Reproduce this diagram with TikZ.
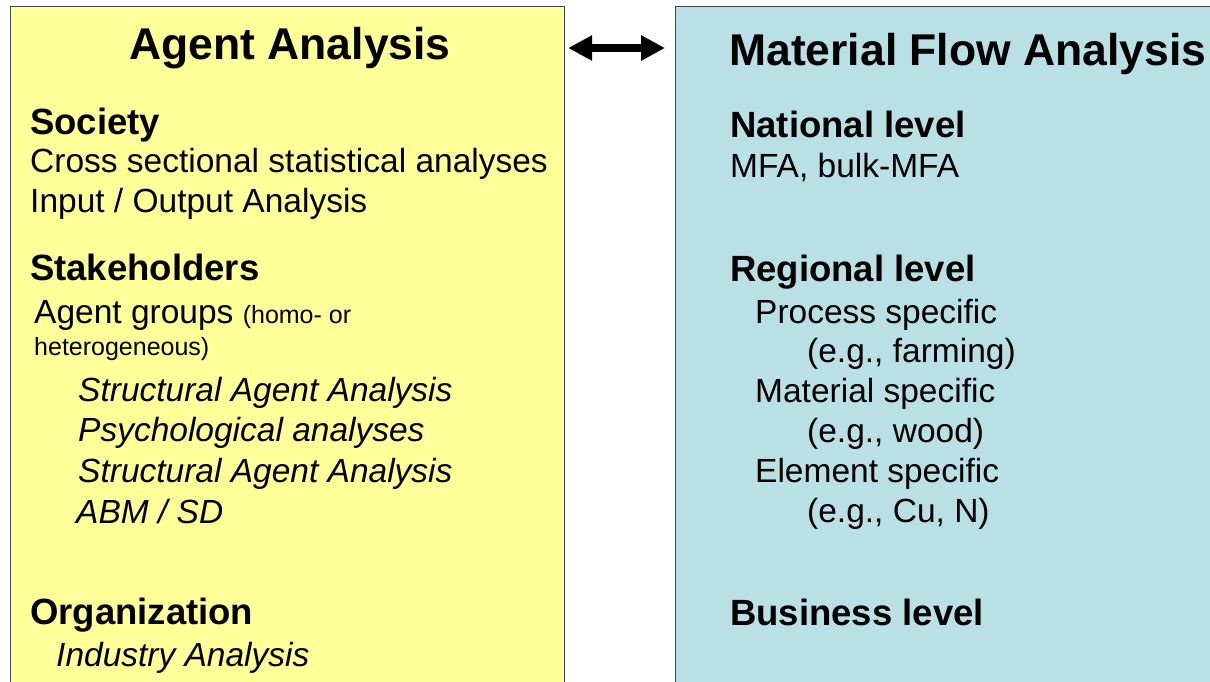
\documentclass[tikz,border=0pt]{standalone}
\usepackage{fontspec}
\setmainfont{Liberation Sans}
\usetikzlibrary{positioning,arrows.meta}
\definecolor{agentyellow}{RGB}{255,255,153}
\definecolor{flowblue}{RGB}{185,224,228}
\definecolor{boxgray}{RGB}{70,70,70}
\newcommand\notesize{\fontsize{25}{30}\selectfont}

\begin{document}
\begin{tikzpicture}[x=1pt,y=-1pt,
	panel/.style ={rectangle, draw=boxgray, line width=1.2pt, inner sep=0pt,
		minimum height=720pt, anchor=north west},
	txt/.style ={anchor=base west, inner sep=0pt, font=\fontsize{33.5}{40}\selectfont},
	head/.style ={txt, font=\fontsize{36.5}{44}\selectfont\bfseries},
	title/.style ={inner sep=0pt, font=\fontsize{44.5}{53}\selectfont\bfseries},
	small/.style ={font=\notesize},
	both/.style ={{Triangle[length=24pt,width=24pt]}-{Triangle[length=24pt,width=24pt]},
		line width=8pt}]
	\useasboundingbox (0,0) rectangle (1210,681);
	\clip (0,0) rectangle (1210,681);
	\node[panel, fill=agentyellow, minimum width=554pt] (agent) at (10,6) {};
	\node[panel, fill=flowblue, minimum width=600pt] (flow) at (675,6) {};
	\draw[both] ([shift={(3,42)}]agent.north east) -- ([shift={(-10,42)}]flow.north west);

	\node[title, anchor=base] (atitle) at (290,59) {Agent Analysis};
	\node[head] (soc) at (30,134) {Society};
	\node[txt] (cross) [below=38pt of soc.base west, txt] {Cross sectional statistical analyses};
	\node[txt] (io) [below=40pt of cross.base west, txt] {Input / Output Analysis};
	\node[head] (stake) [below=68pt of io.base west, head] {Stakeholders};
	\node[txt] (groups) [below=43pt of stake.base west, txt, xshift=4pt] {Agent groups {\notesize(homo- or}};
	\node[txt] (hetero) [below=32pt of groups.base west, txt, small] {heterogeneous)};
	\node[txt] (sa1) [below=46pt of hetero.base west, txt, xshift=44pt] {\itshape Structural Agent Analysis};
	\node[txt] (psy) [below=40pt of sa1.base west, txt] {\itshape Psychological analyses};
	\node[txt] (sa2) [below=41pt of psy.base west, txt] {\itshape Structural Agent Analysis};
	\node[txt] (abm) [below=41pt of sa2.base west, txt, xshift=-2pt] {\itshape ABM / SD};
	\node[head] (org) at (30,624) {Organization};
	\node[txt] (ind) [below=42pt of org.base west, txt, xshift=26pt] {\itshape Industry Analysis};

	\node[title, anchor=base west] (ftitle) at (729,65) {Material Flow Analysis};
	\node[head] (nat) at (730,137) {National level};
	\node[txt] (mfa) [below=40pt of nat.base west, txt] {MFA, bulk-MFA};
	\node[head] (reg) at (730,281) {Regional level};
	\node[txt] (proc) [below=42pt of reg.base west, txt, xshift=25pt] {Process specific};
	\node[txt] (farm) [below=39pt of proc.base west, txt, xshift=52pt] {(e.g., farming)};
	\node[txt] (mat) [below=40pt of farm.base west, txt, xshift=-52pt] {Material specific};
	\node[txt] (wood) [below=40pt of mat.base west, txt, xshift=52pt] {(e.g., wood)};
	\node[txt] (elem) [below=40pt of wood.base west, txt, xshift=-52pt] {Element specific};
	\node[txt] (cu) [below=40pt of elem.base west, txt, xshift=52pt] {(e.g., Cu, N)};
	\node[head] (bus) at (730,625) {Business level};
\end{tikzpicture}
\end{document}
